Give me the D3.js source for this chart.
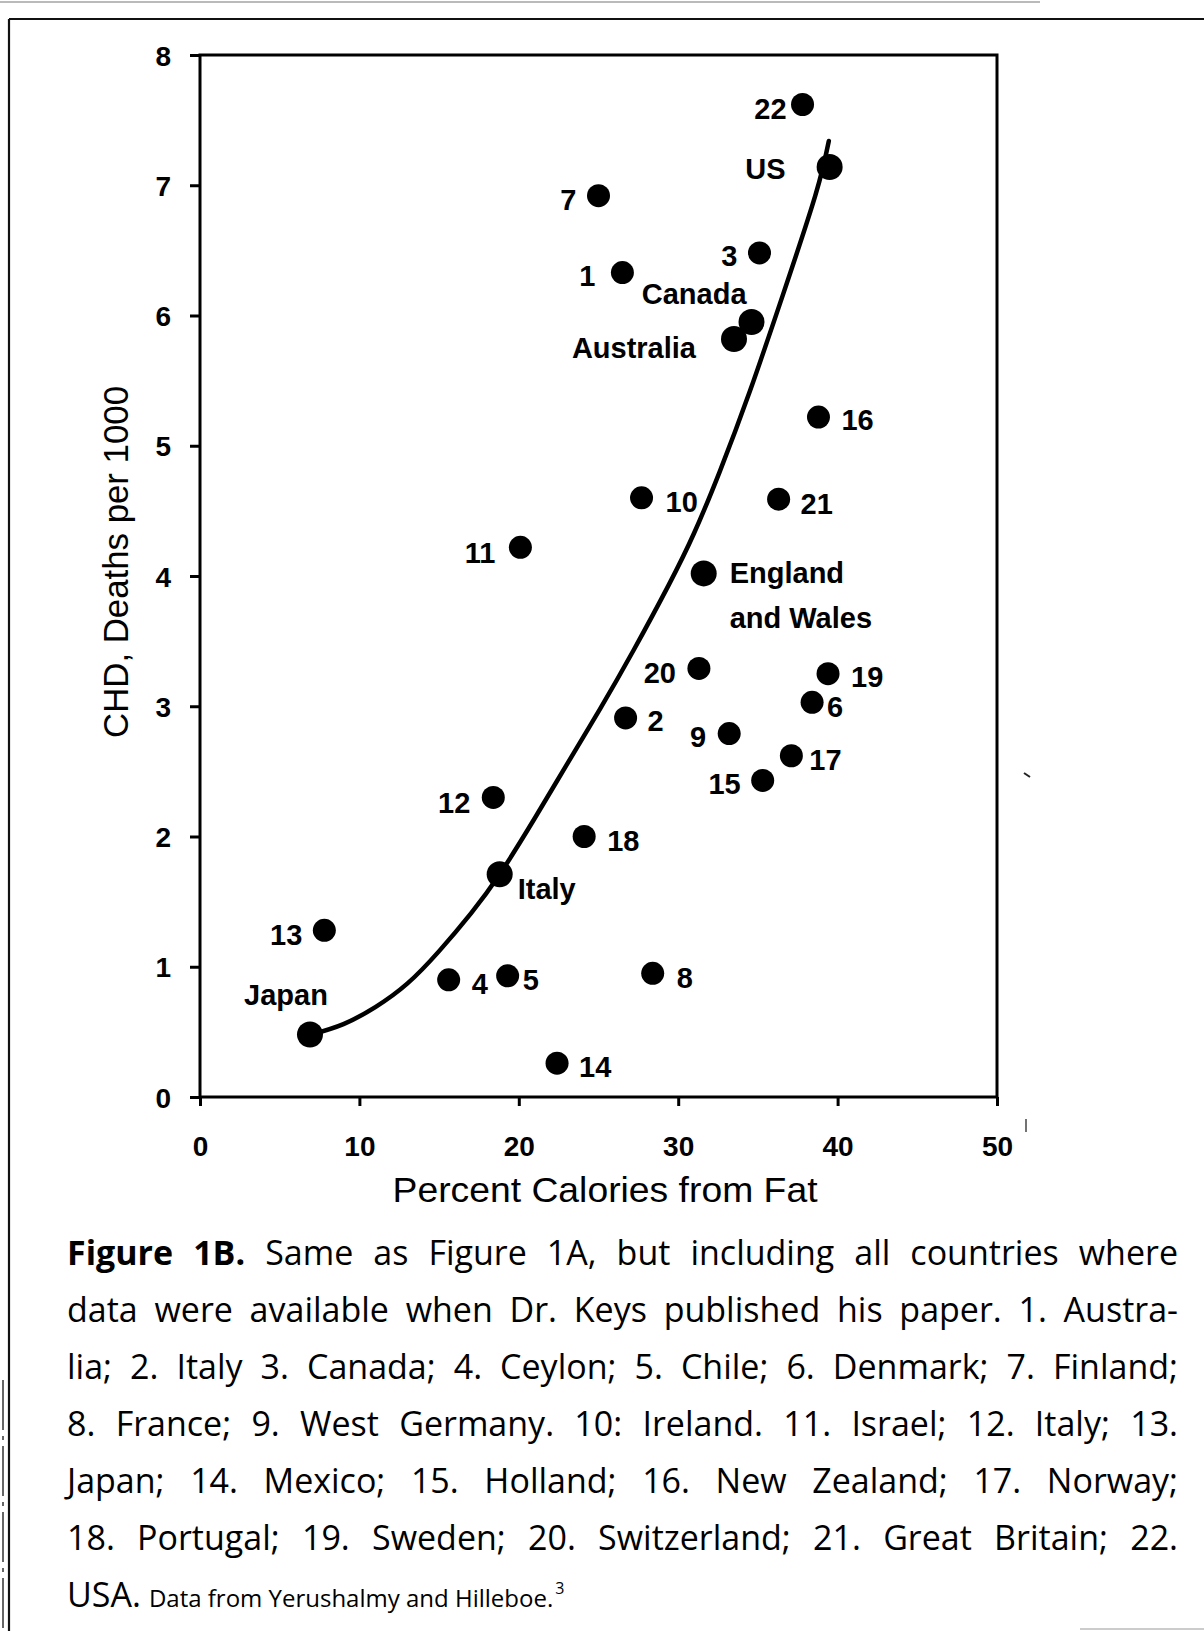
<!DOCTYPE html>
<html>
<head>
<meta charset="utf-8">
<script src="https://cdn.jsdelivr.net/npm/d3@7"></script>
<style>
body{margin:0;background:#fff;}
svg{display:block;}
</style>
</head>
<body>
<div id="container"></div>
<script>
let w = 1204;
let h = 1631;

// values
let labels = ["22","US","7","3","1","Canada","Australia","16","10","21","11","England\nand Wales","20","19","6","2","9","17","15","12","18","Italy","13","4","5","8","Japan","14"];
let fatPct = [37.8,39.5,25.0,35.1,26.5,34.6,33.5,38.8,27.7,36.3,20.1,31.6,31.3,39.4,38.4,26.7,33.2,37.1,35.3,18.4,24.1,18.8,7.8,15.6,19.3,28.4,6.9,22.4];
let chdDeaths = [7.62,7.14,6.92,6.48,6.33,5.95,5.82,5.22,4.60,4.59,4.22,4.02,3.29,3.25,3.03,2.91,2.79,2.62,2.43,2.30,2.00,1.71,1.28,0.90,0.93,0.95,0.48,0.26];
// countries of the original Figure 1A (drawn a little larger)
let fig1A = ["US","Canada","Australia","England\nand Wales","Italy","Japan"];

// fitted curve
let curveFat = [7.0,9.0,11.0,13.0,15.0,17.0,18.8,21.0,23.0,25.1,27.2,29.4,31.0,32.6,34.5,36.6,38.6,39.45];
let curveChd = [0.48,0.56,0.69,0.87,1.12,1.41,1.71,2.14,2.55,2.98,3.43,3.93,4.33,4.80,5.42,6.17,6.92,7.34];

let xTicks = [0,10,20,30,40,50];
let yTicks = [0,1,2,3,4,5,6,7,8];

let captionLines = [
  "Figure 1B. Same as Figure 1A, but including all countries where",
  "data were available when Dr. Keys published his paper. 1. Austra-",
  "lia; 2. Italy 3. Canada; 4. Ceylon; 5. Chile; 6. Denmark; 7. Finland;",
  "8. France; 9. West Germany. 10: Ireland. 11. Israel; 12. Italy; 13.",
  "Japan; 14. Mexico; 15. Holland; 16. New Zealand; 17. Norway;",
  "18. Portugal; 19. Sweden; 20. Switzerland; 21. Great Britain; 22."
];
let captionLast = "USA.";
let captionSource = "Data from Yerushalmy and Hilleboe.";

// label placement next to each dot: [dx, dy, anchor]
let place = {
  "22":[-16,4,"end"], "US":[-44,2,"end"], "7":[-22,4,"end"], "3":[-22,3,"end"],
  "1":[-27,3,"end"], "Canada":[-5,-28,"end"], "Australia":[-38,9,"end"],
  "16":[23,3,"start"], "10":[24,4,"start"], "21":[22,4,"start"], "11":[-25,5,"end"],
  "England\nand Wales":[26,-1,"start"], "20":[-23,4,"end"], "19":[23,3,"start"],
  "6":[15,4,"start"], "2":[22,3,"start"], "9":[-23,3,"end"], "17":[18,4,"start"],
  "15":[-22,3,"end"], "12":[-23,5,"end"], "18":[23,4,"start"], "Italy":[18,14,"start"],
  "13":[-22,4,"end"], "4":[23,4,"start"], "5":[15,4,"start"], "8":[24,4,"start"],
  "Japan":[-24,-40,"middle"], "14":[22,3,"start"]
};

let chartFont = "'Liberation Sans', Arial, Helvetica, sans-serif";
let capFont = "'Open Sans', 'Noto Sans', sans-serif";

let svg = d3.select("#container").append("svg")
    .attr("width", w)
    .attr("height", h)
    .style("background-color", "#fff");

// scanned page frame
svg.append("line").attr("x1",0).attr("y1",2).attr("x2",1040).attr("y2",2)
  .attr("stroke","#777").attr("stroke-width",1.2);
svg.append("line").attr("x1",9).attr("y1",19).attr("x2",w).attr("y2",19)
  .attr("stroke","#111").attr("stroke-width",2.2);
svg.append("line").attr("x1",9).attr("y1",19).attr("x2",9).attr("y2",h)
  .attr("stroke","#111").attr("stroke-width",2.2);
svg.append("line").attr("x1",3).attr("y1",1380).attr("x2",3).attr("y2",h)
  .attr("stroke","#333").attr("stroke-width",1.5).attr("stroke-dasharray","50,6,4,6");
svg.append("line").attr("x1",1080).attr("y1",1629).attr("x2",w).attr("y2",1629)
  .attr("stroke","#bbb").attr("stroke-width",1.5);

let x = d3.scaleLinear().domain([0,50]).range([200,997]);
let y = d3.scaleLinear().domain([0,8]).range([1097,55]);

// plot box
svg.append("rect")
  .attr("x", x(0)).attr("y", y(8))
  .attr("width", x(50)-x(0)).attr("height", y(0)-y(8))
  .attr("fill","none").attr("stroke","#000").attr("stroke-width",3);

let gx = svg.append("g")
  .attr("transform", "translate(0," + y(0) + ")")
  .call(d3.axisBottom(x).tickValues(xTicks).tickSize(9).tickSizeOuter(0));
gx.select(".domain").remove();
gx.selectAll("line").attr("stroke","#000").attr("stroke-width",3);
gx.selectAll("text")
  .attr("font-family", chartFont).attr("font-size",28).attr("font-weight","bold")
  .attr("fill","#000").attr("y",59).attr("dy",0);

let gy = svg.append("g")
  .attr("transform", "translate(" + x(0) + ",0)")
  .call(d3.axisLeft(y).tickValues(yTicks).tickSize(10).tickSizeOuter(0));
gy.select(".domain").remove();
gy.selectAll("line").attr("stroke","#000").attr("stroke-width",3);
gy.selectAll("text")
  .attr("font-family", chartFont).attr("font-size",28).attr("font-weight","bold")
  .attr("fill","#000").attr("x",-29).attr("dy","0.36em");

// axis titles
svg.append("text")
  .attr("x", 605).attr("y", 1202)
  .attr("text-anchor","middle")
  .attr("font-family", chartFont).attr("font-size",35)
  .attr("textLength",425).attr("lengthAdjust","spacingAndGlyphs")
  .text("Percent Calories from Fat");

svg.append("text")
  .attr("transform","translate(128,562) rotate(-90)")
  .attr("text-anchor","middle")
  .attr("font-family", chartFont).attr("font-size",35)
  .attr("textLength",352).attr("lengthAdjust","spacingAndGlyphs")
  .text("CHD, Deaths per 1000");

// fitted curve
let curvePts = curveFat.map(function(d,i){ return [d, curveChd[i]]; });
let lineMaker = d3.line()
  .x(function(d){ return x(d[0]); })
  .y(function(d){ return y(d[1]); })
  .curve(d3.curveNatural);
svg.append("path")
  .datum(curvePts)
  .attr("d", lineMaker)
  .attr("fill","none").attr("stroke","#000").attr("stroke-width",4.5)
  .attr("stroke-linecap","round");

// points
let pts = labels.map(function(d,i){ return {label:d, fat:fatPct[i], chd:chdDeaths[i]}; });
svg.selectAll(".dot").data(pts).enter()
  .append("circle")
    .attr("class","dot")
    .attr("cx", function(d){ return x(d.fat); })
    .attr("cy", function(d){ return y(d.chd); })
    .attr("r", function(d){ return fig1A.includes(d.label) ? 13 : 11.5; })
    .attr("fill","#000");

// point labels
let fs = 29;
let lab = svg.selectAll(".lab").data(pts).enter()
  .append("text")
    .attr("class","lab")
    .attr("font-family", chartFont).attr("font-size",fs).attr("font-weight","bold")
    .attr("text-anchor", function(d){ return place[d.label][2]; })
    .attr("x", function(d){ return x(d.fat) + place[d.label][0]; })
    .attr("y", function(d){ return y(d.chd) + place[d.label][1] + 0.358*fs; });
lab.each(function(d){
  let parts = d.label.split("\n");
  let t = d3.select(this);
  parts.forEach(function(p,k){
    t.append("tspan")
      .attr("x", x(d.fat) + place[d.label][0])
      .attr("dy", k == 0 ? 0 : 45)
      .text(p);
  });
});

// scan specks
svg.append("line").attr("x1",1026).attr("y1",1119).attr("x2",1026).attr("y2",1132)
  .attr("stroke","#444").attr("stroke-width",1.5);
svg.append("line").attr("x1",1024).attr("y1",773).attr("x2",1030).attr("y2",777)
  .attr("stroke","#222").attr("stroke-width",2);

// caption, justified word by word
let capLeft = 67;
let capRight = 1178;
let capSize = 34;
let base0 = 1265;
let lineStep = 57;

captionLines.forEach(function(line, li){
  let words = line.split(" ");
  let g = svg.append("g");
  let widths = [];
  let nodes = [];
  words.forEach(function(wd, wi){
    let t = g.append("text")
      .attr("font-family", capFont).attr("font-size", capSize)
      .attr("font-weight", (li == 0 && wi < 2) ? "bold" : "normal")
      .attr("y", base0 + li*lineStep)
      .text(wd);
    nodes.push(t);
    widths.push(t.node().getComputedTextLength());
  });
  let total = d3.sum(widths);
  let gap = (capRight - capLeft - total) / (words.length - 1);
  let cx = capLeft;
  nodes.forEach(function(t, wi){
    t.attr("x", cx);
    cx += widths[wi] + gap;
  });
});

let lastY = base0 + captionLines.length*lineStep;
let usa = svg.append("text")
  .attr("x", capLeft).attr("y", lastY)
  .attr("font-family", capFont).attr("font-size", capSize)
  .text(captionLast);
let usaW = usa.node().getComputedTextLength();
let srcX = capLeft + usaW + 8;
let src = svg.append("text")
  .attr("x", srcX).attr("y", lastY)
  .attr("font-family", capFont).attr("font-size", 24)
  .text(captionSource);
let srcW = src.node().getComputedTextLength();
svg.append("text")
  .attr("x", srcX + srcW + 2).attr("y", lastY - 13)
  .attr("font-family", capFont).attr("font-size", 16)
  .text("3");
</script>
</body>
</html>
